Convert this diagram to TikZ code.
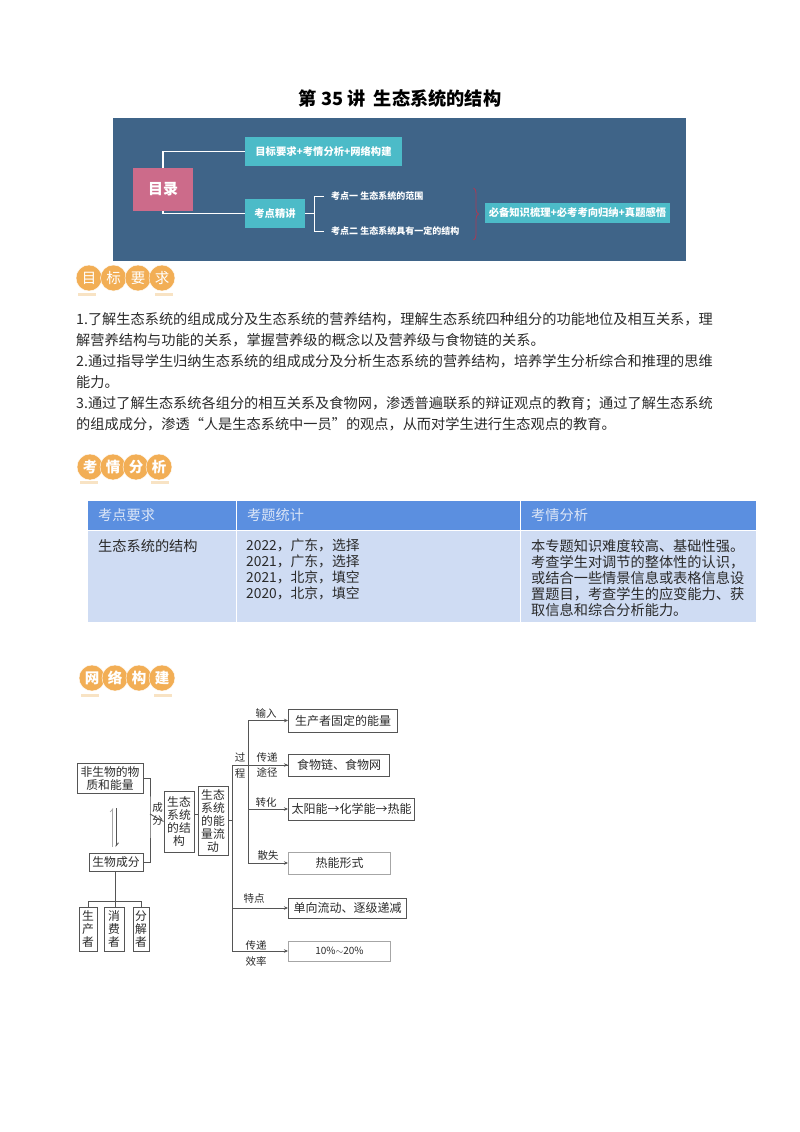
\documentclass[tikz,border=0pt]{standalone}
\usepackage{fontspec}
\setmainfont{Noto Sans CJK SC}
\usetikzlibrary{arrows.meta,decorations.pathreplacing}
\definecolor{bannerblue}{HTML}{3F6488}
\definecolor{bannerteal}{HTML}{4CBBC8}
\definecolor{bannerpink}{HTML}{CC6B8A}
\definecolor{bracered}{HTML}{A83A55}
\definecolor{coinorange}{HTML}{F2AE55}
\definecolor{coinbar}{HTML}{F8E3C4}
\definecolor{tablehead}{HTML}{5B8FE0}
\definecolor{tablebody}{HTML}{CFDCF3}
\definecolor{tablehtext}{HTML}{DCE6F7}
\definecolor{inktext}{HTML}{2A2A2A}
\definecolor{boxline}{HTML}{555555}
\tikzset{
  coin/.style={circle, fill=coinorange, draw=white, line width=0.4pt, minimum size=26pt, inner sep=0pt, text=white, font=\fontsize{14.5}{16}\selectfont},
  boldcoin/.style={coin, font=\fontsize{14.5}{16}\bfseries\selectfont},
  coinlow/.style={fill=coinbar, minimum width=18pt, minimum height=3pt, inner sep=0pt},
  tealbox/.style={fill=bannerteal, text=white, inner sep=0pt, font=\fontsize{10.3}{12}\bfseries\selectfont},
  bannertext/.style={text=white, inner sep=0pt, anchor=west, font=\fontsize{9}{11}\bfseries\selectfont},
  cell/.style={anchor=north west, draw=white, line width=1pt, inner sep=0pt},
  celltext/.style={anchor=north west, inner sep=0pt, align=left, text=inktext, font=\fontsize{14.2}{16}\selectfont},
  headtext/.style={anchor=west, inner sep=0pt, text=tablehtext, font=\fontsize{14.2}{16}\selectfont},
  partbox/.style={draw=boxline, line width=1pt, inner sep=0pt, align=center, text=inktext, font=\fontsize{11.8}{13}\selectfont},
  flowbox/.style={draw=boxline, line width=1pt, inner sep=0pt, text=inktext, font=\fontsize{12}{14}\selectfont},
  tag/.style={inner sep=0pt, text=inktext, font=\fontsize{10.5}{12}\selectfont},
  link/.style={draw=boxline, line width=0.9pt},
  flowarrow/.style={link, -{Stealth[length=4pt,width=3.5pt]}}
}
\begin{document}
\begin{tikzpicture}[x=1pt,y=-1pt]
\useasboundingbox (0,0) rectangle (800,1132);
\node (title) [inner sep=0pt, font=\fontsize{18.2}{20}\bfseries\selectfont] at (400,99) {第 35 讲~~生态系统的结构};
% banner
\node (banner) [anchor=north west, fill=bannerblue, minimum width=573pt, minimum height=143pt, inner sep=0pt] at (113,118) {};
\node (mulu) [fill=bannerpink, text=white, minimum width=60pt, minimum height=43pt, inner sep=0pt, font=\fontsize{15}{17}\bfseries\selectfont] at (163,189.5) {目录};
\node (yaoqiu) [tealbox, minimum width=157pt, minimum height=29pt] at (323.5,151.5) {目标要求+考情分析+网络构建};
\node (jingjiang) [tealbox, minimum width=60pt, minimum height=29pt] at (275,213.5) {考点精讲};
\node (kaodian1) [bannertext] at (331,196.5) {考点一 生态系统的范围};
\node (kaodian2) [bannertext] at (331,231.5) {考点二 生态系统具有一定的结构};
\node (zhishi) [tealbox, minimum width=185pt, minimum height=20pt] at (577.5,213) {必备知识梳理+必考考向归纳+真题感悟};
\coordinate (fork) at (314.5,213.5);
\coordinate (bracetop) at (473.5,188);
\coordinate (bracelow) at (473.5,240);
\draw [white, line width=1.3pt] (mulu.north) |- (yaoqiu.west);
\draw [white, line width=1.3pt] (mulu.south) |- (jingjiang.west);
\draw [white, line width=0.9pt] (jingjiang.east) -- (fork);
\draw [white, line width=0.9pt] (fork) |- ([xshift=-7pt]kaodian1.west);
\draw [white, line width=0.9pt] (fork) |- ([xshift=-7pt]kaodian2.west);
\draw [decorate, decoration={brace, amplitude=5pt}, draw=bracered, line width=0.8pt] (bracetop) -- (bracelow);
% first heading
\node (bar1a) [coinlow] at (87,294.5) {};
\node (bar1b) [coinlow] at (164,294.5) {};
\node (mu) [coin] at (89,278) {目};
\node (biao) [coin] at (113.5,278) {标};
\node (yao) [coin] at (138,278) {要};
\node (qiu) [coin] at (162,278) {求};
\node (goals) [anchor=north west, inner sep=0pt, align=left, text=inktext, font=\fontsize{14.2}{21}\selectfont] at (76,312) {1.了解生态系统的组成成分及生态系统的营养结构，理解生态系统四种组分的功能地位及相互关系，理\\解营养结构与功能的关系，掌握营养级的概念以及营养级与食物链的关系。\\2.通过指导学生归纳生态系统的组成成分及分析生态系统的营养结构，培养学生分析综合和推理的思维\\能力。\\3.通过了解生态系统各组分的相互关系及食物网，渗透普遍联系的辩证观点的教育；通过了解生态系统\\的组成成分，渗透“人是生态系统中一员”的观点，从而对学生进行生态观点的教育。};
% second heading
\node (bar2a) [coinlow] at (88.5,482) {};
\node (bar2b) [coinlow] at (159.5,482) {};
\node (kao) [boldcoin] at (90,467) {考};
\node (qing) [boldcoin] at (113,467) {情};
\node (fen) [boldcoin] at (136,467) {分};
\node (xi) [boldcoin] at (159,467) {析};
% table
\node (head1) [cell, fill=tablehead, minimum width=149pt, minimum height=30pt] at (87,500) {};
\node (head2) [cell, fill=tablehead, minimum width=284pt, minimum height=30pt] at (236,500) {};
\node (head3) [cell, fill=tablehead, minimum width=236pt, minimum height=30pt] at (520,500) {};
\node (body1) [cell, fill=tablebody, minimum width=149pt, minimum height=92pt] at (87,530) {};
\node (body2) [cell, fill=tablebody, minimum width=284pt, minimum height=92pt] at (236,530) {};
\node (body3) [cell, fill=tablebody, minimum width=236pt, minimum height=92pt] at (520,530) {};
\node (headtext1) [headtext] at (98,515) {考点要求};
\node (headtext2) [headtext] at (247,515) {考题统计};
\node (headtext3) [headtext] at (531,515) {考情分析};
\node (bodytext1) [celltext] at (98,539) {生态系统的结构};
\node (bodytext2) [celltext, font=\fontsize{13.8}{16}\selectfont] at (246,539) {2022，广东，选择\\2021，广东，选择\\2021，北京，填空\\2020，北京，填空};
\node (bodytext3) [celltext] at (531,539) {本专题知识难度较高、基础性强。\\考查学生对调节的整体性的认识，\\或结合一些情景信息或表格信息设\\置题目，考查学生的应变能力、获\\取信息和综合分析能力。};
% third heading
\node (bar3a) [coinlow] at (89.5,695) {};
\node (bar3b) [coinlow] at (163,695) {};
\node (wang) [boldcoin] at (92,678) {网};
\node (luo) [boldcoin] at (115,678) {络};
\node (gou) [boldcoin] at (139,678) {构};
\node (jian) [boldcoin] at (162,678) {建};
% left part of the diagram
\node (feishengwu) [partbox, minimum width=66pt, minimum height=30pt] at (110,778) {非生物的物\\质和能量};
\node (shengwu) [partbox, minimum width=54pt, minimum height=18pt] at (116,862) {生物成分};
\node (jiegou) [partbox, minimum width=30pt, minimum height=61pt] at (179,821.5) {生态\\系统\\的结\\构};
\node (liudong) [partbox, minimum width=30pt, minimum height=69pt] at (213,820.5) {生态\\系统\\的能\\量流\\动};
\node (shengchan) [partbox, minimum width=18pt, minimum height=44pt] at (88,929) {生\\产\\者};
\node (xiaofei) [partbox, minimum width=20pt, minimum height=44pt] at (114,929) {消\\费\\者};
\node (fenjie) [partbox, minimum width=16pt, minimum height=44pt] at (141,929) {分\\解\\者};
\node (chengfen) [tag, align=center, font=\fontsize{10.5}{13}\selectfont] at (157.5,814.5) {成\\分};
\coordinate (joinA) at (150,814);
\coordinate (treeA) at (115,901);
\coordinate (upA) at (112.7,847);
\coordinate (upB) at (112.7,808);
\coordinate (downA) at (116,808);
\coordinate (downB) at (116,847);
\draw [link] (feishengwu.east) -| (joinA) |- (shengwu.east);
\draw [link] (joinA) -- (jiegou.west);
\draw [link] (jiegou.east |- joinA) -- (liudong.west |- joinA);
\draw [link] (shengwu.south -| treeA) -- (treeA);
\draw [link] (treeA) -| (shengchan.north);
\draw [link] (treeA) -| (fenjie.north);
\draw [link] (treeA) -- (xiaofei.north -| treeA);
\draw [draw=gray!70, line width=0.7pt, -{Straight Barb[left,length=3pt,width=5pt]}] (upA) -- (upB);
\draw [draw=boxline, line width=0.9pt, -{Straight Barb[left,length=3pt,width=5pt]}] (downA) -- (downB);
% right part of the diagram
\node (guding) [flowbox, anchor=west, minimum width=109pt, minimum height=23pt] at (288,720.5) {生产者固定的能量};
\node (shiwulian) [flowbox, anchor=west, minimum width=101pt, minimum height=22pt] at (288,765) {食物链、食物网};
\node (zhuanhua) [flowbox, anchor=west, minimum width=126pt, minimum height=22pt] at (288,809) {太阳能→化学能→热能};
\node (reneng) [flowbox, draw=gray!70, anchor=west, minimum width=102pt, minimum height=22pt] at (288,863) {热能形式};
\node (danxiang) [flowbox, anchor=west, minimum width=118pt, minimum height=20pt] at (288,908) {单向流动、逐级递减};
\node (baifen) [flowbox, draw=gray!70, anchor=west, minimum width=102pt, minimum height=20pt, font=\fontsize{10}{12}\selectfont] at (288,951) {10\%$\sim$20\%};
\node (shuru) [tag] at (266,713) {输入};
\node (chuandi) [tag] at (267,757) {传递};
\node (tujing) [tag] at (267,772) {途径};
\node (zhuan) [tag] at (266,803) {转化};
\node (sanshi) [tag] at (268,856) {散失};
\node (tedian) [tag] at (254,898) {特点};
\node (chuandi2) [tag] at (256,945) {传递};
\node (xiaolv) [tag] at (256,961) {效率};
\node (guo) [tag] at (240,757) {过};
\node (cheng) [tag] at (240,774) {程};
\coordinate (trunk) at (232,820);
\coordinate (second) at (248,765);
\draw [link] (liudong.east |- trunk) -- (trunk);
\draw [link] (trunk) |- (shiwulian.west);
\draw [flowarrow] (second) -- (shiwulian.west);
\draw [flowarrow] (second) |- (guding.west);
\draw [flowarrow] (second) |- (reneng.west);
\draw [flowarrow] (second |- zhuanhua.west) -- (zhuanhua.west);
\draw [flowarrow] (trunk) |- (danxiang.west);
\draw [flowarrow] (trunk) |- (baifen.west);
\end{tikzpicture}
\end{document}
